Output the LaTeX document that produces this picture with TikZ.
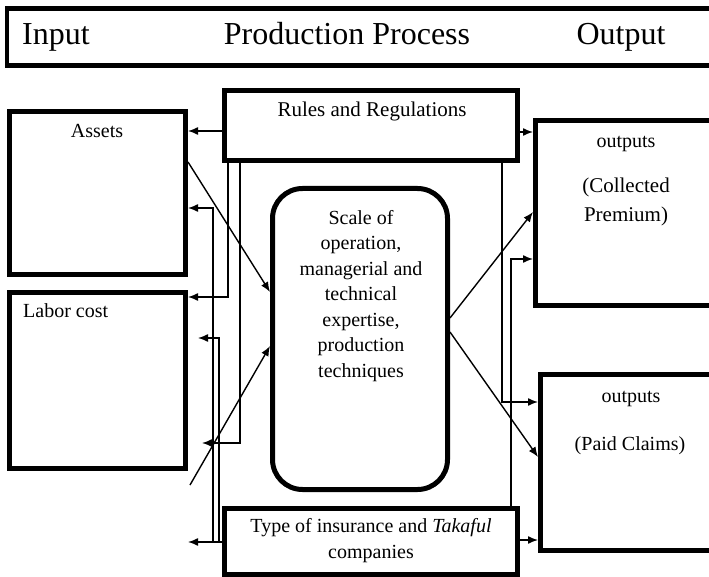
\documentclass[tikz,border=0pt]{standalone}
\usepackage{fontspec}
\setmainfont{Liberation Serif}
\usetikzlibrary{arrows.meta}
\tikzset{
  box/.style={draw,line width=5pt,inner sep=0pt},
  conn/.style={line width=1.4pt,-{Latex[length=10pt,width=8pt]}},
  lbl/.style={font=\fontsize{20}{25.5}\selectfont,anchor=base,align=center,inner sep=0pt},
  hdr/.style={font=\fontsize{32}{36}\selectfont,anchor=base,inner sep=0pt}
}
\begin{document}
\begin{tikzpicture}[x=1pt,y=-1pt]
\useasboundingbox (0,0) rectangle (709,577);
\clip (0,0) rectangle (709,577);
\node[box,line width=4.5pt,minimum width=733pt,minimum height=57pt] (header) at (373.5,37) {};
\node[hdr] (input) at (56,45) {Input};
\node[hdr] (process) at (347,45) {Production Process};
\node[hdr] (output) at (621,45) {Output};
\node[box,minimum width=176pt,minimum height=163pt] (assets) at (97.5,193) {};
\node[box,minimum width=176pt,minimum height=176pt] (labor) at (97.5,380.5) {};
\node[box,minimum width=293pt,minimum height=70pt] (rules) at (371,125.5) {};
\node[box,rounded corners=30pt,minimum width=175pt,minimum height=301pt] (scale) at (360,339) {};
\node[box,minimum width=293pt,minimum height=66pt] (type) at (371,541.5) {};
\node[box,minimum width=224.5pt,minimum height=185pt] (outA) at (647.75,213) {};
\node[box,minimum width=219.5pt,minimum height=176pt] (outB) at (650.25,462.5) {};
\node[lbl] (assetstxt) at (97,138) {Assets};
\node[lbl,anchor=base west] (labortxt) at (23,317) {Labor cost};
\node[lbl,font=\fontsize{21}{25.5}\selectfont] (rulestxt) at (372,117) {Rules and Regulations};
\node[lbl] (scaletxt) at (361,377) {Scale of\\operation,\\managerial and\\technical\\expertise,\\production\\techniques};
\node[lbl] (typetxt) at (371,558) {Type of insurance and \textit{Takaful}\\companies};
\node[lbl] (outAtop) at (626,148) {outputs};
\node[lbl,font=\fontsize{21}{29}\selectfont] (outAtxt) at (626,222) {(Collected\\Premium)};
\node[lbl] (outBtop) at (631,402) {outputs};
\node[lbl] (outBtxt) at (630,450) {(Paid Claims)};
\coordinate (endA) at (202,443);
\coordinate (endB) at (198,338);
\coordinate (endC) at (188,542);
\coordinate (startD) at (190,485);
\draw[conn] (rules.west |- 0,131) -- (assets.east |- 0,131);
\draw[conn] (rules.south -| 228,0) |- (labor.east |- 0,297);
\draw[conn] (rules.south -| 240,0) |- (endA);
\draw[conn] (type.west |- 0,542) -- (endC);
\draw[conn] (type.west |- 0,542) -| (213,208) -- (assets.east |- 0,208);
\draw[conn] (type.west |- 0,542) -| (219,338) -- (endB);
\draw[conn] (assets.east |- 0,162) -- (scale.west |- 0,292);
\draw[conn] (startD) -- (scale.west |- 0,346);
\draw[conn] (scale.east |- 0,318) -- (outA.west |- 0,212);
\draw[conn] (scale.east |- 0,332) -- (outB.west |- 0,457);
\draw[conn] (rules.east |- 0,132) -- (outA.west |- 0,132);
\draw[conn] (rules.south -| 502,0) |- (outB.west |- 0,402);
\draw[conn] (type.north -| 511,0) |- (outA.west |- 0,259);
\draw[conn] (type.east |- 0,540) -- (outB.west |- 0,540);
\end{tikzpicture}
\end{document}
